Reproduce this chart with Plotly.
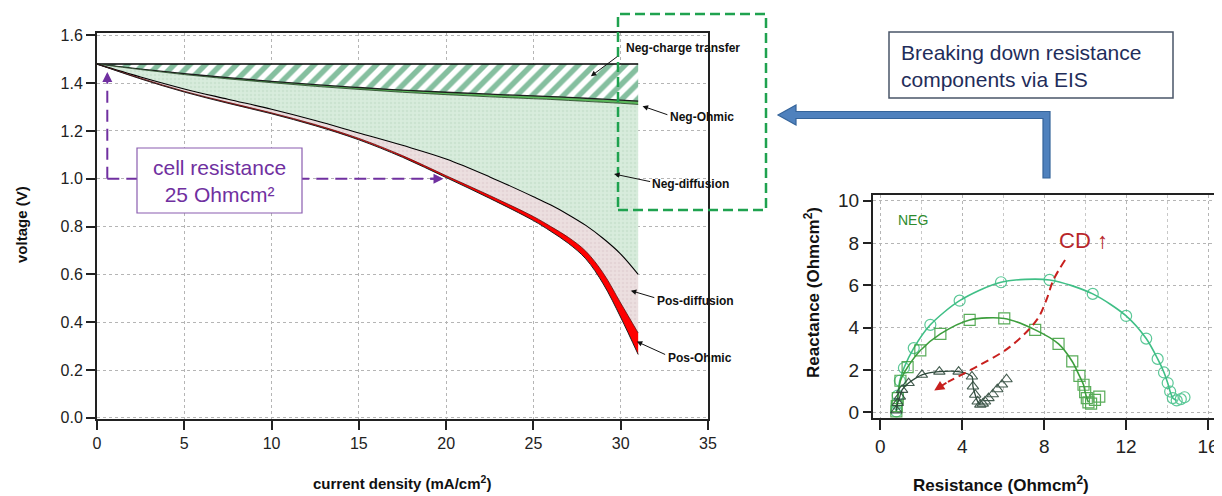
import plotly.graph_objects as go

# ---------------- data: polarization breakdown (main chart) ----------------
current_density = [0, 2.5, 5, 7.5, 10, 12.5, 15, 17.5, 20, 22.5, 25, 26, 27, 28, 29, 30, 31]
ocv_v = [1.48] * 17
neg_charge_transfer_v = [1.48, 1.459, 1.440, 1.423, 1.408, 1.394, 1.382, 1.371, 1.362, 1.354, 1.347, 1.344, 1.341, 1.337, 1.333, 1.329, 1.325]
neg_ohmic_v = [1.48, 1.457, 1.436, 1.418, 1.402, 1.387, 1.374, 1.362, 1.352, 1.343, 1.335, 1.332, 1.328, 1.324, 1.320, 1.316, 1.311]
neg_diffusion_v = [1.48, 1.426, 1.376, 1.333, 1.291, 1.244, 1.192, 1.140, 1.083, 1.008, 0.925, 0.890, 0.850, 0.805, 0.750, 0.685, 0.600]
pos_diffusion_v = [1.48, 1.421, 1.366, 1.320, 1.276, 1.227, 1.169, 1.097, 1.013, 0.930, 0.842, 0.800, 0.755, 0.697, 0.605, 0.480, 0.355]
cell_v = [1.48, 1.418, 1.363, 1.316, 1.272, 1.222, 1.163, 1.090, 1.005, 0.918, 0.825, 0.780, 0.730, 0.665, 0.560, 0.420, 0.265]

x_ticks = [0, 5, 10, 15, 20, 25, 30, 35]
y_ticks = [0.0, 0.2, 0.4, 0.6, 0.8, 1.0, 1.2, 1.4, 1.6]

# ---------------- data: EIS Nyquist (right chart) ----------------
circ_re = [0.78, 0.80, 0.85, 0.95, 1.15, 1.63, 2.44, 3.87, 5.89, 8.26, 10.37, 12.0, 12.98, 13.54, 13.85, 14.03, 14.15, 14.28, 14.47, 14.67, 14.85]
circ_im = [0.05, 0.40, 0.80, 1.50, 2.10, 3.04, 4.14, 5.28, 6.15, 6.26, 5.60, 4.56, 3.49, 2.53, 1.89, 1.39, 0.99, 0.68, 0.57, 0.63, 0.72]
sq_re = [0.78, 0.80, 0.85, 0.98, 1.33, 1.95, 2.93, 4.36, 6.05, 7.56, 8.70, 9.37, 9.72, 9.92, 10.0, 10.08, 10.16, 10.29, 10.48, 10.69]
sq_im = [0.05, 0.30, 0.68, 1.50, 2.14, 2.93, 3.71, 4.37, 4.44, 3.90, 3.24, 2.41, 1.73, 1.31, 0.96, 0.68, 0.48, 0.42, 0.60, 0.75]
tri_re = [0.78, 0.85, 0.95, 1.06, 1.38, 2.03, 2.88, 3.82, 4.47, 4.52, 4.63, 4.75, 4.88, 5.00, 5.11, 5.28, 5.49, 5.71, 5.94, 6.16]
tri_im = [0.10, 0.45, 0.75, 1.07, 1.39, 1.78, 1.93, 1.93, 1.70, 1.23, 0.84, 0.52, 0.37, 0.42, 0.52, 0.68, 0.86, 1.10, 1.32, 1.57]
cd_re = [9.02, 8.45, 8.1, 7.64, 6.34, 4.71, 3.3]
cd_im = [7.20, 6.26, 5.3, 4.37, 3.11, 2.17, 1.45]
eis_x_ticks = [0, 4, 8, 12, 16]
eis_y_ticks = [0, 2, 4, 6, 8, 10]

W, H = 1222, 496
OFF = 8  # the page body offsets the figure by 8 px
FONT = "Liberation Sans, Arial, sans-serif"


def px(x):
    return (x - OFF) / W


def py(y):
    return 1 - (y - OFF) / H


fig = go.Figure()

# --- stacked loss regions ---
fig.add_trace(go.Scatter(x=current_density, y=ocv_v, mode="lines",
                         line=dict(color="black", width=1.6), showlegend=False))
fig.add_trace(go.Scatter(x=current_density, y=neg_charge_transfer_v, mode="lines",
                         line=dict(color="#1d1d1d", width=1.3, shape="spline"),
                         fill="tonexty", fillcolor="white",
                         fillpattern=dict(shape="/", fgcolor="#0c7f40", bgcolor="white",
                                          size=11, solidity=0.5),
                         showlegend=False))
fig.add_trace(go.Scatter(x=current_density, y=neg_ohmic_v, mode="lines",
                         line=dict(color="#1d3d1d", width=0.8, shape="spline"),
                         fill="tonexty", fillcolor="#5cb85c", showlegend=False))
fig.add_trace(go.Scatter(x=current_density, y=neg_diffusion_v, mode="lines",
                         line=dict(color="black", width=1.1, shape="spline"),
                         fill="tonexty", fillcolor="#d6ebdb",
                         fillpattern=dict(shape=".", fgcolor="#bddac4", bgcolor="#d8ecdc",
                                          size=4, solidity=0.35),
                         showlegend=False))
fig.add_trace(go.Scatter(x=current_density, y=pos_diffusion_v, mode="lines",
                         line=dict(color="#5a1010", width=0.8, shape="spline"),
                         fill="tonexty", fillcolor="#ebdcdd",
                         fillpattern=dict(shape=".", fgcolor="#dccacc", bgcolor="#ecdfe0",
                                          size=4, solidity=0.35),
                         showlegend=False))
fig.add_trace(go.Scatter(x=current_density, y=cell_v, mode="lines",
                         line=dict(color="#202020", width=1.0, shape="spline"),
                         fill="tonexty", fillcolor="#ff0000", showlegend=False))

# --- EIS traces ---
C_CIRC, C_SQ, C_TRI = "#3fbf86", "#3d9e3d", "#2f4a3c"
fig.add_trace(go.Scatter(x=circ_re[:19], y=circ_im[:19], mode="lines", xaxis="x2", yaxis="y2",
                         line=dict(color=C_CIRC, width=1.6, shape="spline", smoothing=0.8),
                         showlegend=False))
fig.add_trace(go.Scatter(x=circ_re, y=circ_im, mode="markers", xaxis="x2", yaxis="y2",
                         marker=dict(symbol="circle-open", size=11, color=C_CIRC, line=dict(width=1.2)),
                         opacity=0.85, showlegend=False))
fig.add_trace(go.Scatter(x=sq_re[:17], y=sq_im[:17], mode="lines", xaxis="x2", yaxis="y2",
                         line=dict(color=C_SQ, width=1.6, shape="spline", smoothing=0.8),
                         showlegend=False))
fig.add_trace(go.Scatter(x=sq_re, y=sq_im, mode="markers", xaxis="x2", yaxis="y2",
                         marker=dict(symbol="square-open", size=11, color=C_SQ, line=dict(width=1.2)),
                         opacity=0.85, showlegend=False))
fig.add_trace(go.Scatter(x=tri_re[:13], y=tri_im[:13], mode="lines", xaxis="x2", yaxis="y2",
                         line=dict(color=C_TRI, width=1.3, shape="spline", smoothing=0.8),
                         showlegend=False))
fig.add_trace(go.Scatter(x=tri_re, y=tri_im, mode="markers", xaxis="x2", yaxis="y2",
                         marker=dict(symbol="triangle-up-open", size=10, color=C_TRI, line=dict(width=1.1)),
                         opacity=0.9, showlegend=False))
fig.add_trace(go.Scatter(x=cd_re, y=cd_im, mode="lines", xaxis="x2", yaxis="y2",
                         line=dict(color="#c8201e", width=2, dash="8px,5px", shape="spline"),
                         showlegend=False))

# ---------------- axes ----------------
axis_common = dict(showline=True, linecolor="#222222", linewidth=2, mirror=True,
                   ticks="outside", tickcolor="#222222", tickwidth=1.5, automargin=False,
                   showgrid=True, gridcolor="#b5b5b5", griddash="dot", gridwidth=1,
                   zeroline=False, tickfont=dict(family=FONT, size=16, color="#222222"))
eis_axis = {**axis_common, "tickfont": dict(family=FONT, size=19, color="#222222")}

fig.update_layout(
    width=W, height=H, autosize=False,
    margin=dict(l=0, r=0, t=0, b=0, pad=0),
    paper_bgcolor="white", plot_bgcolor="white",
    font=dict(family=FONT),
    xaxis=dict(domain=[px(97), px(708)], range=[0, 35], tickvals=x_ticks, ticklen=9,
               anchor="y", **axis_common),
    yaxis=dict(domain=[py(419), py(33)], range=[-0.005, 1.61], tickvals=y_ticks,
               tickformat=".1f", ticklen=9, anchor="x", **axis_common),
    xaxis2=dict(domain=[px(873), px(1215)], range=[-0.36, 16.34], tickvals=eis_x_ticks,
                ticklen=10, anchor="y2",
                minor=dict(dtick=2, showgrid=True, gridcolor="#c8c8c8", griddash="dot"),
                **eis_axis),
    yaxis2=dict(domain=[py(418), py(195)], range=[-0.26, 10.27], tickvals=eis_y_ticks,
                ticklen=8, anchor="x2", **eis_axis),
)

# ---------------- shapes ----------------
shapes = []
# purple dashed guide lines (cell resistance)
shapes.append(dict(type="line", xref="x", yref="y", x0=0.59, y0=1.0, x1=0.59, y1=1.42,
                   line=dict(color="#7030a0", width=2, dash="12px,7px")))
shapes.append(dict(type="line", xref="x", yref="y", x0=0.59, y0=1.0, x1=19.3, y1=1.0,
                   line=dict(color="#7030a0", width=2, dash="12px,7px")))
# purple text box
shapes.append(dict(type="rect", xref="paper", yref="paper", x0=px(137), x1=px(302),
                   y0=py(213), y1=py(148), fillcolor="white",
                   line=dict(color="#8a5db0", width=1.2), layer="above"))
# green dashed zoom box
shapes.append(dict(type="rect", xref="paper", yref="paper", x0=px(618), x1=px(766),
                   y0=py(210), y1=py(14), line=dict(color="#1fa24f", width=2.5, dash="10px,5px"),
                   layer="above"))
# EIS title box
shapes.append(dict(type="rect", xref="paper", yref="paper", x0=px(889), x1=px(1173),
                   y0=py(98), y1=py(32), fillcolor="white",
                   line=dict(color="#4a5568", width=1.5), layer="above"))
# blue elbow arrow
pts = [(1043, 178), (1043, 118.5), (796, 118.5), (796, 125), (778, 115), (796, 105),
       (796, 111.5), (1050, 111.5), (1050, 178)]
path = "M " + " L ".join(f"{px(a):.5f},{py(b):.5f}" for a, b in pts) + " Z"
shapes.append(dict(type="path", xref="paper", yref="paper", path=path,
                   fillcolor="#4f81bd", line=dict(color="#35649a", width=1.2), layer="above"))
fig.update_layout(shapes=shapes)

# ---------------- annotations ----------------
ann = []
center = dict(xanchor="center", yanchor="middle", showarrow=False)
# axis titles
ann.append(dict(x=px(21), y=py(225), xref="paper", yref="paper", text="<b>voltage (V)</b>",
                textangle=-90, font=dict(size=15, color="#111111"), **center))
ann.append(dict(x=px(402), y=py(482), xref="paper", yref="paper",
                text="<b>current density (mA/cm<sup>2</sup>)</b>",
                font=dict(size=15, color="#111111"), **center))
ann.append(dict(x=px(812), y=py(293), xref="paper", yref="paper",
                text="<b>Reactance (Ohmcm<sup>2</sup>)</b>", textangle=-90,
                font=dict(size=17, color="#111111"), **center))
ann.append(dict(x=px(1001), y=py(484), xref="paper", yref="paper",
                text="<b>Resistance (Ohmcm<sup>2</sup>)</b>",
                font=dict(size=17, color="#111111"), **center))

# loss-component labels with arrows (tip, tail, label position)
labels = [
    ("Neg-charge transfer", (28.29, 1.429), (29.89, 1.516), (30.2, 1.546)),
    ("Neg-Ohmic", (31.25, 1.304), (32.76, 1.266), (32.7, 1.258)),
    ("Neg-diffusion", (29.62, 1.020), (31.77, 0.987), (31.7, 0.978)),
    ("Pos-diffusion", (30.58, 0.532), (32.01, 0.501), (31.95, 0.489)),
    ("Pos-Ohmic", (30.92, 0.319), (32.63, 0.262), (32.6, 0.251)),
]
for txt, tip, tail, pos in labels:
    ann.append(dict(x=tip[0], y=tip[1], ax=tail[0], ay=tail[1], xref="x", yref="y",
                    axref="x", ayref="y", text="", showarrow=True, arrowhead=2,
                    arrowsize=1.1, arrowwidth=1, arrowcolor="#111111"))
    ann.append(dict(x=pos[0], y=pos[1], xref="x", yref="y", xanchor="left", yanchor="middle",
                    text=f"<b>{txt}</b>", showarrow=False,
                    font=dict(size=12, color="#111111")))

# purple arrowheads
ann.append(dict(x=0.59, y=1.447, ax=0.59, ay=1.40, xref="x", yref="y", axref="x", ayref="y",
                text="", showarrow=True, arrowhead=2, arrowsize=1, arrowwidth=2,
                arrowcolor="#7030a0"))
ann.append(dict(x=19.85, y=1.0, ax=19.0, ay=1.0, xref="x", yref="y", axref="x", ayref="y",
                text="", showarrow=True, arrowhead=2, arrowsize=1, arrowwidth=2,
                arrowcolor="#7030a0"))
ann.append(dict(x=px(219), y=py(181), xref="paper", yref="paper",
                text="cell resistance<br>25 Ohmcm²",
                font=dict(size=21, color="#7030a0"), **center))

# EIS box text
ann.append(dict(x=px(899), y=py(66), xref="paper", yref="paper", xanchor="left",
                yanchor="middle", text="Breaking down resistance<br>components via EIS",
                align="left", showarrow=False, font=dict(size=21, color="#1f2d5a")))

# EIS plot texts
ann.append(dict(x=1.6, y=9.1, xref="x2", yref="y2", text="NEG",
                font=dict(size=14, color="#2e8b2e"), **center))
ann.append(dict(x=9.9, y=8.1, xref="x2", yref="y2", text="CD ↑",
                font=dict(size=22, color="#b8262a"), **center))
ann.append(dict(x=2.63, y=1.04, ax=3.3, ay=1.45, xref="x2", yref="y2", axref="x2",
                ayref="y2", text="", showarrow=True, arrowhead=2, arrowsize=1,
                arrowwidth=2, arrowcolor="#c8201e"))

fig.update_layout(annotations=ann)

fig.write_html("out.html")
